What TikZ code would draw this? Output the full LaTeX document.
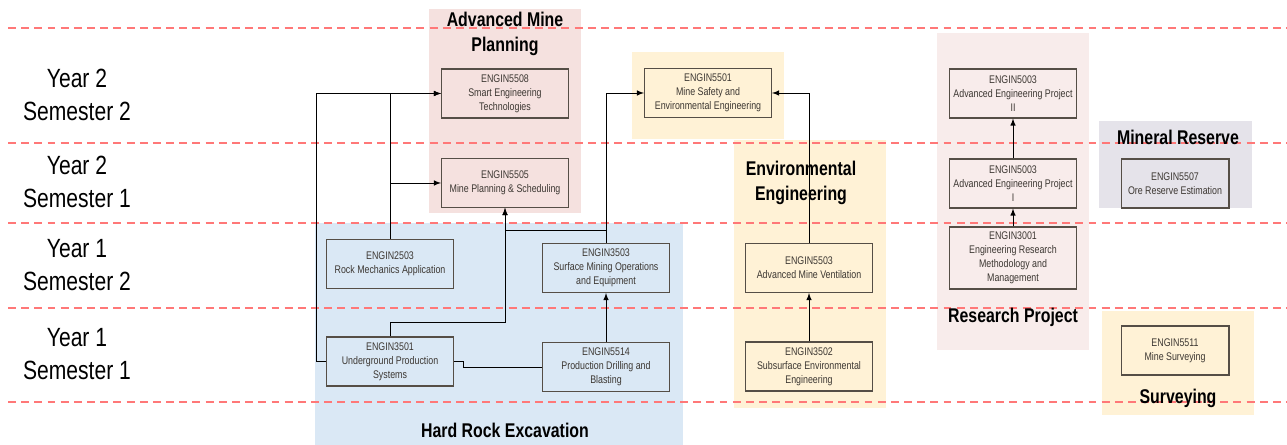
\documentclass[tikz,border=0pt]{standalone}
\usepackage{fontspec}
\setmainfont{Liberation Sans}
\newfontfamily\narrowfont[FakeStretch=0.8]{Liberation Sans}
\usepackage{tikz}

\definecolor{planbg}{RGB}{245,225,223}
\definecolor{projbg}{RGB}{248,236,235}
\definecolor{rockbg}{RGB}{218,232,245}
\definecolor{envbg}{RGB}{255,242,214}
\definecolor{resbg}{RGB}{229,227,234}
\definecolor{semline}{RGB}{255,120,120}
\definecolor{boxline}{RGB}{85,78,70}
\definecolor{boxtext}{RGB}{60,55,50}

\begin{document}
\begin{tikzpicture}[x=0.02cm, y=-0.02cm, >=latex, thin,
        main/.style = {draw=boxline, line width=0.6pt, align=center, text=boxtext,
            minimum width=2.54cm, minimum height=0.98cm, inner sep=1pt,
            font=\narrowfont\fontsize{6.3}{7.9}\selectfont},
        small/.style = {main, minimum width=2.16cm},
        group/.style = {align=center, font=\narrowfont\bfseries\fontsize{11.3}{14.2}\selectfont},
        year/.style = {align=center, font=\narrowfont\fontsize{15}{18.7}\selectfont},
        sem/.style = {semline, dashed, dash pattern=on 4.5pt off 3pt, line width=0.8pt}]
        \useasboundingbox (0,0) rectangle (1287,445);

        % group backgrounds
        \fill[planbg] (429,9) rectangle (581,213);
        \fill[rockbg] (315,223) rectangle (683,445);
        \fill[envbg] (632,52) rectangle (784,139);
        \fill[envbg] (734,140) rectangle (886,408);
        \fill[projbg] (937,33) rectangle (1089,350);
        \fill[resbg] (1099,121) rectangle (1252,208);
        \fill[envbg] (1102,311) rectangle (1254,415);

        % semester lines
        \foreach \y in {28,143,223,308,402}
            \draw[sem] (8,\y) -- (1287,\y);

        \node[year] (y4) at (77,95) {Year 2\\Semester 2};
        \node[year] (y3) at (77,182) {Year 2\\Semester 1};
        \node[year] (y2) at (77,265) {Year 1\\Semester 2};
        \node[year] (y1) at (77,354) {Year 1\\Semester 1};

        \node[group] (gplan) at (505,34) {Advanced Mine\\Planning};
        \node[group] (grock) at (505,430) {Hard Rock Excavation};
        \node[group] (genv) at (801,183) {Environmental\\Engineering};
        \node[group] (gproj) at (1013,317) {Research Project};
        \node[group] (gres) at (1178,137) {Mineral Reserve};
        \node[group] (gsurv) at (1178,398) {Surveying};

        \node[main] (5508) at (505,93.5) {ENGIN5508\\Smart Engineering\\Technologies};
        \node[main] (5505) at (505,183) {ENGIN5505\\Mine Planning \& Scheduling};
        \node[main] (2503) at (390,264) {ENGIN2503\\Rock Mechanics Application};
        \node[main] (3503) at (606,268) {ENGIN3503\\Surface Mining Operations\\and Equipment};
        \node[main] (3501) at (390,361.5) {ENGIN3501\\Underground Production\\Systems};
        \node[main] (5514) at (606,367) {ENGIN5514\\Production Drilling and\\Blasting};
        \node[main] (5501) at (708,93) {ENGIN5501\\Mine Safety and\\Environmental Engineering};
        \node[main] (5503) at (809,268) {ENGIN5503\\Advanced Mine Ventilation};
        \node[main] (3502) at (809,366.5) {ENGIN3502\\Subsurface Environmental\\Engineering};
        \node[main] (5003b) at (1013,93.5) {ENGIN5003\\Advanced Engineering Project\\II};
        \node[main] (5003a) at (1013,183.5) {ENGIN5003\\Advanced Engineering Project\\I};
        \node[main, minimum height=1.24cm] (3001) at (1013,258) {ENGIN3001\\Engineering Research\\Methodology and\\Management};
        \node[small] (5507) at (1175,183.5) {ENGIN5507\\Ore Reserve Estimation};
        \node[small] (5511) at (1175,350.5) {ENGIN5511\\Mine Surveying};

        \draw[->] (3501.west) -- ++(-10,0) |- (5508.west);
        \draw[->] (2503.north) |- (5508.west);
        \draw[->] (2503.north) |- (5505.west);
        \draw[->] (3501.north) -- ++(0,-14) -| (5505.south);
        \draw[->] (3503.north) -- ++(0,-13) -| (5505.south);
        \draw[->] (3503.north) |- (5501.west);
        \draw (3501.east) -- ++(9,0) |- (5514.west);
        \draw[->] (5514) -- (3503);
        \draw[->] (3502) -- (5503);
        \draw[->] (5503.north) |- (5501.east);
        \draw[->] (3001) -- (5003a);
        \draw[->] (5003a) -- (5003b);

    \end{tikzpicture}
\end{document}
